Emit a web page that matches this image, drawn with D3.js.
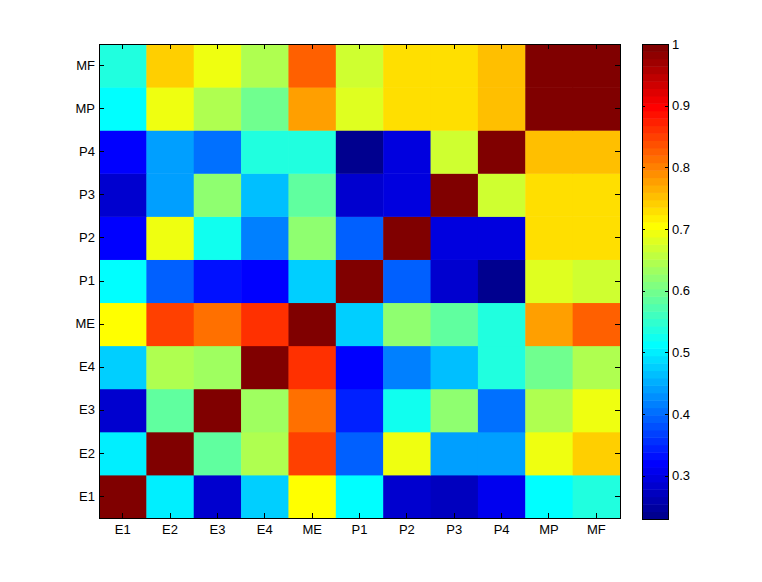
<!DOCTYPE html>
<html>
<head>
<meta charset="utf-8">
<script src="https://cdn.jsdelivr.net/npm/d3@7"></script>
<style>
  body { margin: 0; background: #fff; }
  text { font-family: Arial, "Liberation Sans", sans-serif; font-size: 13px; fill: #000; }
</style>
</head>
<body>
<div id="chart"></div>
<script>
// category labels, same order on both axes (x left->right, y bottom->top)
var labels = ["E1", "E2", "E3", "E4", "ME", "P1", "P2", "P3", "P4", "MP", "MF"];

// one row per label (row E1 is the bottom row)
var rowE1 = [1.00, 0.50, 0.29, 0.48, 0.70, 0.51, 0.29, 0.27, 0.31, 0.51, 0.54];
var rowE2 = [0.50, 1.00, 0.59, 0.64, 0.855, 0.39, 0.69, 0.445, 0.445, 0.69, 0.74];
var rowE3 = [0.29, 0.59, 1.00, 0.63, 0.81, 0.34, 0.53, 0.625, 0.40, 0.65, 0.69];
var rowE4 = [0.48, 0.64, 0.63, 1.00, 0.867, 0.325, 0.42, 0.47, 0.54, 0.60, 0.65];
var rowME = [0.70, 0.855, 0.81, 0.867, 1.00, 0.48, 0.615, 0.585, 0.54, 0.775, 0.82];
var rowP1 = [0.51, 0.39, 0.335, 0.32, 0.48, 1.00, 0.39, 0.28, 0.23, 0.68, 0.675];
var rowP2 = [0.32, 0.69, 0.53, 0.42, 0.615, 0.39, 1.00, 0.30, 0.30, 0.735, 0.735];
var rowP3 = [0.285, 0.445, 0.625, 0.47, 0.58, 0.28, 0.30, 1.00, 0.67, 0.735, 0.735];
var rowP4 = [0.315, 0.445, 0.40, 0.54, 0.54, 0.23, 0.30, 0.67, 1.00, 0.75, 0.75];
var rowMP = [0.51, 0.69, 0.65, 0.60, 0.775, 0.68, 0.735, 0.735, 0.75, 1.00, 0.99];
var rowMF = [0.54, 0.74, 0.69, 0.65, 0.82, 0.675, 0.735, 0.735, 0.75, 0.99, 1.00];
var rows = [rowE1, rowE2, rowE3, rowE4, rowME, rowP1, rowP2, rowP3, rowP4, rowMP, rowMF];

var colorbarTicks = [0.3, 0.4, 0.5, 0.6, 0.7, 0.8, 0.9, 1];

var WIDTH = 762, HEIGHT = 582;
var PLOT = { left: 99, top: 44, right: 620, bottom: 518 };
var CBAR = { left: 642, top: 44, right: 668, bottom: 519 };
var N_COLORS = 64;

// matlab style jet(m) colormap
function jetColors(m) {
    var n = Math.ceil(m / 4), u = [], i;
    for (i = 1; i <= n; i++) u.push(i / n);
    for (i = 1; i < n; i++) u.push(1);
    for (i = n; i >= 1; i--) u.push(i / n);
    var g0 = Math.ceil(n / 2) - (m % 4 == 1 ? 1 : 0);
    var map = [];
    for (i = 0; i < m; i++) map.push([0, 0, 0]);
    u.forEach(function(val, k) {
        var g = g0 + k + 1, r = g + n, b = g - n;
        if (g >= 1 && g <= m) map[g - 1][1] = val;
        if (r >= 1 && r <= m) map[r - 1][0] = val;
        if (b >= 1 && b <= m) map[b - 1][2] = val;
    });
    return map.map(function(c) {
        return d3.rgb(Math.round(c[0] * 255), Math.round(c[1] * 255), Math.round(c[2] * 255)).formatHex();
    });
}

var cells = [];
rows.forEach(function(row, i) {
    row.forEach(function(v, j) {
        cells.push({ row: labels[i], col: labels[j], value: v });
    });
});

var cmin = d3.min(cells, function(d) { return d.value; });
var cmax = d3.max(cells, function(d) { return d.value; });
var palette = jetColors(N_COLORS);
var color = d3.scaleQuantize().domain([cmin, cmax]).range(palette);

var x = d3.scaleBand().domain(labels).range([PLOT.left, PLOT.right]);
var y = d3.scaleBand().domain(labels).range([PLOT.bottom, PLOT.top]);

var svg = d3.select("#chart").append("svg")
    .attr("width", WIDTH)
    .attr("height", HEIGHT);

// heatmap cells
svg.append("g")
    .selectAll("rect")
    .data(cells)
    .enter()
    .append("rect")
    .attr("x", function(d) { return x(d.col); })
    .attr("y", function(d) { return y(d.row); })
    .attr("width", x.bandwidth() + 0.5)
    .attr("height", y.bandwidth() + 0.5)
    .attr("fill", function(d) { return color(d.value); });

// axes, ticks point inward like matlab
function styleAxis(g) {
    g.select(".domain").remove();
    g.selectAll(".tick line").attr("stroke", "#000").attr("shape-rendering", "crispEdges");
    g.selectAll("text").attr("font-size", null).attr("font-family", null);
}

svg.append("g")
    .attr("transform", "translate(0," + PLOT.bottom + ")")
    .call(d3.axisBottom(x).tickSizeInner(-5).tickSizeOuter(0).tickPadding(7))
    .call(styleAxis);

svg.append("g")
    .attr("transform", "translate(" + PLOT.left + ",0)")
    .call(d3.axisLeft(y).tickSizeInner(-5).tickSizeOuter(0).tickPadding(4))
    .call(styleAxis);

svg.append("g")
    .attr("transform", "translate(0," + PLOT.top + ")")
    .call(d3.axisTop(x).tickSizeInner(-5).tickSizeOuter(0).tickFormat(""))
    .call(styleAxis);

svg.append("g")
    .attr("transform", "translate(" + PLOT.right + ",0)")
    .call(d3.axisRight(y).tickSizeInner(-5).tickSizeOuter(0).tickFormat(""))
    .call(styleAxis);

svg.append("rect")
    .attr("x", PLOT.left + 0.5)
    .attr("y", PLOT.top + 0.5)
    .attr("width", PLOT.right - PLOT.left)
    .attr("height", PLOT.bottom - PLOT.top)
    .attr("fill", "none")
    .attr("stroke", "#000")
    .attr("shape-rendering", "crispEdges");

// colorbar
var cy = d3.scaleLinear().domain([cmin, cmax]).range([CBAR.bottom, CBAR.top]);
var step = (cmax - cmin) / N_COLORS;
var bands = d3.range(N_COLORS).map(function(k) {
    return { lo: cmin + k * step, hi: cmin + (k + 1) * step, color: palette[k] };
});

svg.append("g")
    .selectAll("rect")
    .data(bands)
    .enter()
    .append("rect")
    .attr("x", CBAR.left)
    .attr("y", function(d) { return cy(d.hi); })
    .attr("width", CBAR.right - CBAR.left)
    .attr("height", function(d) { return cy(d.lo) - cy(d.hi) + 0.5; })
    .attr("fill", function(d) { return d.color; });

svg.append("g")
    .attr("transform", "translate(" + CBAR.right + ",0)")
    .call(d3.axisRight(cy).tickValues(colorbarTicks).tickSizeInner(-3).tickSizeOuter(0).tickPadding(4)
        .tickFormat(function(t) { return String(t); }))
    .call(styleAxis);

svg.append("g")
    .attr("transform", "translate(" + CBAR.left + ",0)")
    .call(d3.axisLeft(cy).tickValues(colorbarTicks).tickSizeInner(-3).tickSizeOuter(0).tickFormat(""))
    .call(styleAxis);

svg.append("rect")
    .attr("x", CBAR.left + 0.5)
    .attr("y", CBAR.top + 0.5)
    .attr("width", CBAR.right - CBAR.left)
    .attr("height", CBAR.bottom - CBAR.top)
    .attr("fill", "none")
    .attr("stroke", "#000")
    .attr("shape-rendering", "crispEdges");
</script>
</body>
</html>
